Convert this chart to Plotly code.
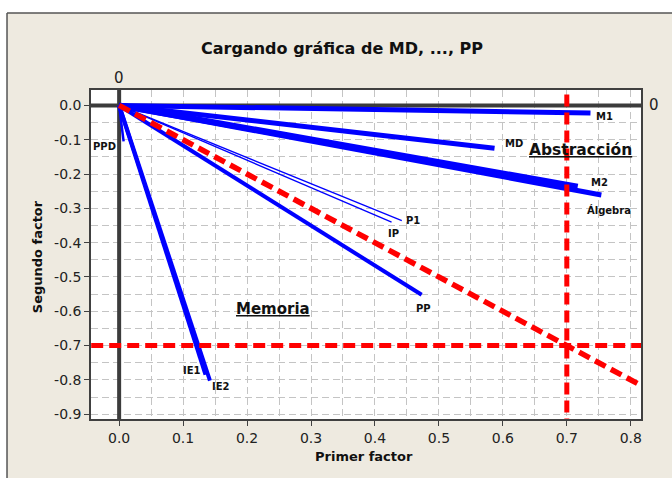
import plotly.graph_objects as go

# Factor loadings (first factor, second factor) per variable
variables = ["M1", "MD", "M2", "Álgebra", "P1", "IP", "PP", "IE1", "IE2", "PPD"]
factor1 = [0.737, 0.587, 0.717, 0.754, 0.442, 0.426, 0.473, 0.135, 0.142, 0.007]
factor2 = [-0.022, -0.125, -0.237, -0.261, -0.336, -0.340, -0.552, -0.785, -0.802, -0.105]

# Reference values
ref_x = 0.7
ref_y = -0.7

# Axis ticks
x_ticks = [0.0, 0.1, 0.2, 0.3, 0.4, 0.5, 0.6, 0.7, 0.8]
y_ticks = [0.0, -0.1, -0.2, -0.3, -0.4, -0.5, -0.6, -0.7, -0.8, -0.9]
x_range = [-0.044, 0.816]
y_range = [-0.914, 0.045]

# Styling
BLUE = "#0000FF"
RED = "#FF0000"
DARK = "#3c3c3c"
BEIGE = "#EEEAE0"
FONT = "DejaVu Sans"
line_width = {"M1": 5, "MD": 5, "M2": 6, "Álgebra": 5, "P1": 1.3, "IP": 1.3,
              "PP": 4, "IE1": 4, "IE2": 4, "PPD": 2.5}
label_shift = {"M1": (14, -4), "MD": (19, 5), "M2": (22, 4), "Álgebra": (8, -15),
               "P1": (11, 0), "IP": (2, -11), "PP": (2, -14), "IE1": (-13, 4),
               "IE2": (11, -6), "PPD": (-19, -5)}

fig = go.Figure()

# Dark reference lines through the origin
fig.add_trace(go.Scatter(x=[0, 0], y=[-1.0, 0.1], mode="lines",
                         line=dict(color=DARK, width=4), hoverinfo="skip"))
fig.add_trace(go.Scatter(x=[-0.1, 0.9], y=[0, 0], mode="lines",
                         line=dict(color=DARK, width=4), hoverinfo="skip"))

# Loading vectors
for name, a, b in zip(variables, factor1, factor2):
    fig.add_trace(go.Scatter(x=[0, a], y=[0, b], mode="lines", name=name,
                             line=dict(color=BLUE, width=line_width[name])))

# Red dashed reference lines
dash = "12px,6px"
fig.add_trace(go.Scatter(x=[ref_x, ref_x], y=[-1.0, 0.1], mode="lines",
                         line=dict(color=RED, width=5, dash=dash), hoverinfo="skip"))
fig.add_trace(go.Scatter(x=[-0.1, 0.9], y=[ref_y, ref_y], mode="lines",
                         line=dict(color=RED, width=5, dash=dash), hoverinfo="skip"))
fig.add_trace(go.Scatter(x=[0, 1.0], y=[0, -1.0], mode="lines",
                         line=dict(color=RED, width=5.5, dash=dash), hoverinfo="skip"))

annotations = []
for name, a, b in zip(variables, factor1, factor2):
    dx, dy = label_shift[name]
    annotations.append(dict(x=a, y=b, xref="x", yref="y", text=f"<b>{name}</b>",
                            showarrow=False, xshift=dx, yshift=dy,
                            xanchor="center", yanchor="middle",
                            font=dict(family=FONT, size=10, color="#111111")))

annotations += [
    dict(x=0.721, y=-0.129, xref="x", yref="y", text="<b><u>Abstracción</u></b>",
         showarrow=False, xanchor="center", yanchor="middle",
         font=dict(family=FONT, size=15.5, color="#111111")),
    dict(x=0.240, y=-0.594, xref="x", yref="y", text="<b><u>Memoria</u></b>",
         showarrow=False, xanchor="center", yanchor="middle",
         font=dict(family=FONT, size=15, color="#111111")),
    dict(x=0, y=1.0365, xref="x", yref="paper", text="0", showarrow=False,
         xanchor="center", yanchor="middle",
         font=dict(family=FONT, size=15, color="#222222")),
    dict(x=1.011, y=0, xref="paper", yref="y", text="0", showarrow=False,
         xanchor="left", yanchor="middle",
         font=dict(family=FONT, size=15, color="#222222")),
    dict(x=0.496, y=-0.1146, xref="paper", yref="paper", text="<b>Primer factor</b>",
         showarrow=False, xanchor="center", yanchor="middle",
         font=dict(family=FONT, size=13, color="#111111")),
    dict(x=-0.098, y=0.492, xref="paper", yref="paper", text="<b>Segundo factor</b>",
         textangle=-90, showarrow=False, xanchor="center", yanchor="middle",
         font=dict(family=FONT, size=13, color="#111111")),
]

# Outer frame: white page outside the beige panel
shapes = [
    dict(type="rect", xref="paper", yref="paper", x0=-0.2, x1=1.2, y0=1.234, y1=1.35,
         fillcolor="white", line=dict(width=0), layer="below"),
    dict(type="rect", xref="paper", yref="paper", x0=-0.2, x1=-0.1527, y0=-0.3, y1=1.35,
         fillcolor="white", line=dict(width=0), layer="below"),
    dict(type="line", xref="paper", yref="paper", x0=-0.1527, x1=-0.1527, y0=-0.3, y1=1.234,
         line=dict(color="#555555", width=1.5)),
    dict(type="line", xref="paper", yref="paper", x0=-0.1527, x1=1.2, y0=1.234, y1=1.234,
         line=dict(color="#555555", width=1.5)),
]

grid = dict(gridcolor="#c4c4c4", griddash="7px,4px", gridwidth=1)
axis_common = dict(showline=True, mirror=True, linecolor="#404040", linewidth=1.5,
                   ticks="outside", ticklen=5, tickcolor="#404040", zeroline=False,
                   tickfont=dict(family=FONT, size=14, color="#222222"),
                   showgrid=True, **grid)

fig.update_layout(
    width=672, height=478,
    margin=dict(l=91, r=31, t=90, b=59),
    paper_bgcolor=BEIGE, plot_bgcolor="white",
    showlegend=False,
    title=dict(text="<b>Cargando gráfica de MD, ..., PP</b>", x=0.509, xref="container",
               xanchor="center", y=1 - 48 / 478, yanchor="middle",
               font=dict(family=FONT, size=16, color="#111111")),
    xaxis=dict(range=x_range, tickvals=x_ticks, ticktext=[f"{v:.1f}" for v in x_ticks],
               minor=dict(dtick=0.05, tick0=0, showgrid=True, **grid), **axis_common),
    yaxis=dict(range=y_range, tickvals=y_ticks, ticktext=[f"{v:.1f}" for v in y_ticks],
               minor=dict(dtick=0.05, tick0=0, showgrid=True, **grid), **axis_common),
    annotations=annotations,
    shapes=shapes,
)

fig.write_html("out.html")
